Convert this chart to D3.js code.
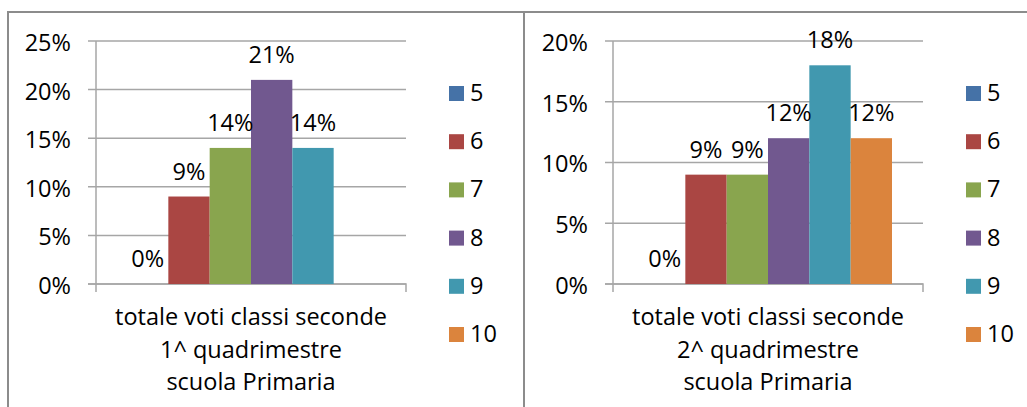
<!DOCTYPE html>
<html>
<head>
<meta charset="utf-8">
<script src="https://cdn.jsdelivr.net/npm/d3@7"></script>
<style>
  body { margin: 0; background: #fff; }
  svg { display: block; font-family: "Open Sans", sans-serif; }
</style>
</head>
<body>
<div id="app"></div>
<script>
const seriesKeys = ["5", "6", "7", "8", "9", "10"];
const seriesColors = ["#4572A7", "#AA4643", "#89A54E", "#71588F", "#4198AF", "#DB843D"];

// values as fractions, null = no bar
const firstTermValues = [0, 0.09, 0.14, 0.21, 0.14, null];
const secondTermValues = [0, 0.09, 0.09, 0.12, 0.18, 0.12];

const firstTermLabel = ["totale voti classi seconde", "1^ quadrimestre", "scuola Primaria"];
const secondTermLabel = ["totale voti classi seconde", "2^ quadrimestre", "scuola Primaria"];

const firstTermTicks = [0, 0.05, 0.1, 0.15, 0.2, 0.25];
const secondTermTicks = [0, 0.05, 0.1, 0.15, 0.2];

const width = 1027;
const height = 407;
const gridColor = "#a6a6a6";
const fontSize = 23.5;

const svg = d3
  .select("#app")
  .append("svg")
  .attr("width", width)
  .attr("height", height);

// panel frames
svg
  .append("path")
  .attr("d", `M8,${height} V12 H${width} M524,12 V${height}`)
  .attr("fill", "none")
  .attr("stroke", "#8c8c8c")
  .attr("stroke-width", 2);

const panel = ({ left, values, ticks, label }) => {
  const x0 = left + 88;
  const x1 = left + 398;
  const yTop = 41;
  const yBottom = 284;

  const g = svg.append("g");

  const y = d3
    .scaleLinear()
    .domain([0, d3.max(ticks)])
    .range([yBottom, yTop]);

  const x = d3
    .scaleBand()
    .domain(seriesKeys)
    .range([x0, x1])
    .paddingInner(0)
    .paddingOuter(0.75);

  const color = d3.scaleOrdinal().domain(seriesKeys).range(seriesColors);

  // gridlines
  g.selectAll("line.grid")
    .data(ticks)
    .join("line")
    .classed("grid", true)
    .attr("x1", x0 - 8)
    .attr("x2", x1)
    .attr("y1", d => y(d))
    .attr("y2", d => y(d))
    .attr("stroke", gridColor)
    .attr("stroke-width", 1.5);

  // y axis labels
  const yAxis = g
    .append("g")
    .attr("transform", `translate(${x0},0)`)
    .call(
      d3
        .axisLeft(y)
        .tickValues(ticks)
        .tickFormat(d3.format(".0%"))
        .tickSize(0)
        .tickPadding(25)
    );
  yAxis.select(".domain").remove();
  yAxis
    .selectAll("text")
    .attr("font-size", fontSize)
    .attr("font-family", "'Open Sans', sans-serif")
    .attr("fill", "#000")
    .attr("dy", "0.4em");

  // axis lines with end ticks
  g.append("path")
    .attr("d", `M${x0},${yTop} V${yBottom + 8} M${x0 - 8},${yBottom} H${x1} V${yBottom + 8}`)
    .attr("fill", "none")
    .attr("stroke", gridColor)
    .attr("stroke-width", 1.5);

  const rows = seriesKeys
    .map((k, i) => ({ key: k, value: values[i] }))
    .filter(d => d.value !== null);

  g.selectAll("rect.bar")
    .data(rows)
    .join("rect")
    .classed("bar", true)
    .attr("x", d => x(d.key))
    .attr("width", x.bandwidth())
    .attr("y", d => y(d.value))
    .attr("height", d => yBottom - y(d.value))
    .attr("fill", d => color(d.key));

  g.selectAll("text.value")
    .data(rows)
    .join("text")
    .classed("value", true)
    .attr("x", d => x(d.key) + x.bandwidth() / 2)
    .attr("y", d => y(d.value) - 17)
    .attr("text-anchor", "middle")
    .attr("font-size", fontSize)
    .text(d => d3.format(".0%")(d.value));

  // category label
  g.append("text")
    .attr("text-anchor", "middle")
    .attr("font-size", fontSize)
    .selectAll("tspan")
    .data(label)
    .join("tspan")
    .attr("x", (x0 + x1) / 2)
    .attr("y", (d, i) => 325 + i * 32.5)
    .text(d => d);

  // legend
  const legend = g
    .selectAll("g.legend")
    .data(seriesKeys)
    .join("g")
    .classed("legend", true)
    .attr("transform", (d, i) => `translate(${left + 441},${86 + i * 48.2})`);
  legend
    .append("rect")
    .attr("width", 15)
    .attr("height", 15)
    .attr("fill", d => color(d));
  legend
    .append("text")
    .attr("x", 21)
    .attr("y", 15)
    .attr("font-size", fontSize)
    .text(d => d);
};

panel({ left: 8, values: firstTermValues, ticks: firstTermTicks, label: firstTermLabel });
panel({ left: 525, values: secondTermValues, ticks: secondTermTicks, label: secondTermLabel });
</script>
</body>
</html>
